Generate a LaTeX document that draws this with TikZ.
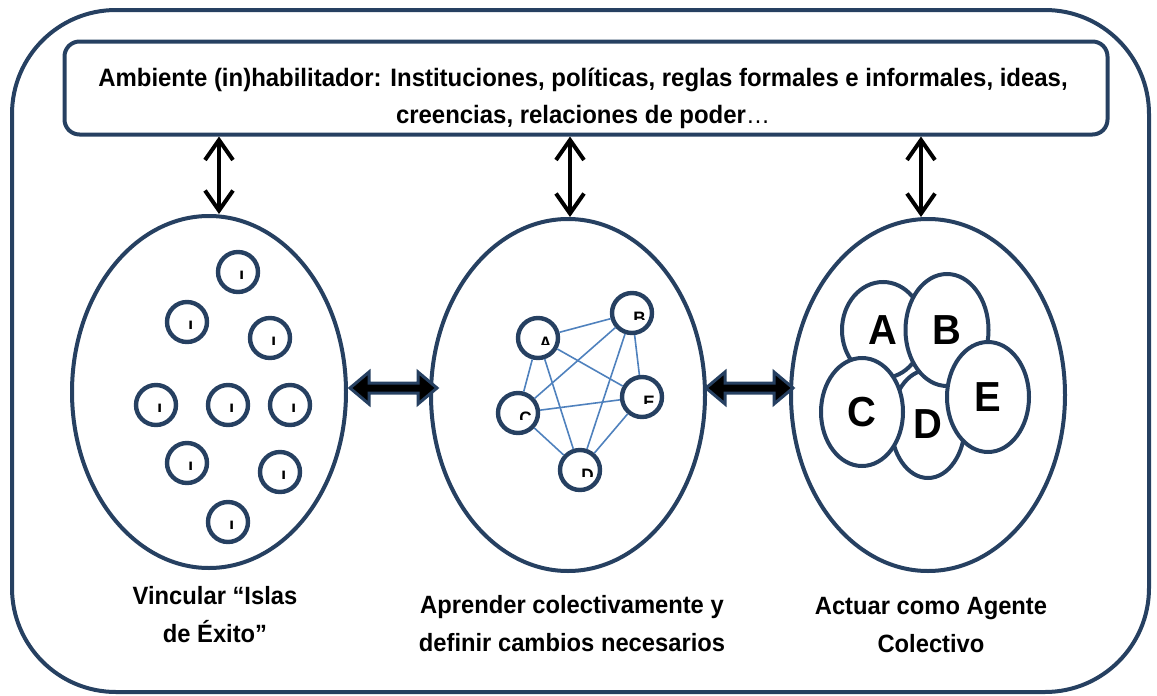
\documentclass[tikz,border=0pt]{standalone}
\usepackage{fontspec}
\setmainfont{Liberation Sans}[FakeStretch=0.95]
\usetikzlibrary{shapes.geometric,arrows.meta}
\definecolor{navy}{RGB}{38,64,97}
\definecolor{netblue}{RGB}{79,129,189}
% letter of a small circle, cut off below
\newcommand\cutletter[2]{%
  \begin{scope}
    \clip ([shift={(-10pt,1pt)}]#1.center) rectangle ([shift={(10pt,-3pt)}]#1.center);
    \node[anchor=north west,inner sep=0pt,font=\bfseries\fontsize{9}{9}\selectfont] at ([shift={(0.5pt,0.5pt)}]#1.center) {#2};
  \end{scope}}
\begin{document}
\begin{tikzpicture}[x=0.5pt,y=-0.5pt,
    frame/.style={draw=navy,line width=2pt},
    big/.style={ellipse,draw=navy,line width=2pt,minimum width=137pt,minimum height=176pt,inner sep=0pt},
    isle/.style={circle,draw=navy,line width=2.2pt,minimum size=20pt,inner sep=0pt},
    part/.style={ellipse,draw=navy,line width=2pt,fill=white,inner sep=0pt,font=\bfseries\fontsize{21}{21}\selectfont},
    link/.style={netblue,line width=0.8pt},
    vert/.style={line width=2pt,{Straight Barb[length=10pt,width=14pt]}-{Straight Barb[length=10pt,width=14pt]}},
    block/.style={draw=navy,fill=black,line width=1.5pt,line join=miter},
    caption/.style={align=center,font=\bfseries\fontsize{12.5}{19}\selectfont}]
    \useasboundingbox (0,0) rectangle (1157,696);
    %frame
    \draw[frame,rounded corners=52pt] (12,10) rectangle (1149,692);
    \node[frame,rounded corners=7.5pt,minimum width=521.5pt,minimum height=46.5pt,inner sep=0pt] (env) at (586,88) {};
    \node[align=center,font=\bfseries\fontsize{12.6}{18.5}\selectfont] (envtext) at (583,98)
        {Ambiente (in)habilitador: Instituciones, políticas, reglas formales e informales, ideas,\\
         creencias, relaciones de poder{\mdseries\ldots}};
    %three stages
    \node[big] (islas) at (209,392) {};
    \node[big] (red) at (568,395) {};
    \node[big] (agente) at (928,395) {};
    \foreach \s/\d in {islas/5pt,red/1pt,agente/-3.5pt}
        \draw[vert] ([xshift=\d]env.south -| \s.north) -- ([xshift=\d]\s.north);
    %islands
    \foreach \x/\y [count=\i] in {238/272,187/322,270/338,156/405,228/405,290/405,187/463,280/472,228/522}{
        \node[isle] (i\i) at (\x,\y) {};
        \cutletter{i\i}{I}
    }
    %network
    \foreach \n/\x/\y in {A/538/338,B/632/313,C/518/413,D/580/470,E/642/397}{
        \node[isle] (n\n) at (\x,\y) {};
        \cutletter{n\n}{\n}
    }
    \foreach \a/\b in {A/B,A/C,A/D,A/E,B/C,B/D,B/E,C/D,C/E,D/E}
        \draw[link] (n\a) -- (n\b);
    %collective agent
    \node[part,minimum width=41pt,minimum height=48pt] (pA) at (883,330) {A};
    \node[part,minimum width=37pt,minimum height=54pt] (pD) at (928,424) {D};
    \node[part,minimum width=41.5pt,minimum height=56pt] (pB) at (947,330) {B};
    \node[part,minimum width=41pt,minimum height=54pt] (pC) at (862,412) {C};
    \node[part,minimum width=41pt,minimum height=55pt] (pE) at (988,397) {E};
    %block arrows
    \foreach \s in {0,356}
        \draw[block,shift={(\s,0)}] (350,388) -- (369,372) -- (369,383) -- (418,383) -- (418,372) -- (437,388)
            -- (418,404) -- (418,393) -- (369,393) -- (369,404) -- cycle;
    %captions
    \node[caption] (capA) at (215,615) {Vincular “Islas\\de Éxito”};
    \node[caption] (capB) at (572,624) {Aprender colectivamente y\\definir cambios necesarios};
    \node[caption] (capC) at (931,625) {Actuar como Agente\\Colectivo};
\end{tikzpicture}
\end{document}
